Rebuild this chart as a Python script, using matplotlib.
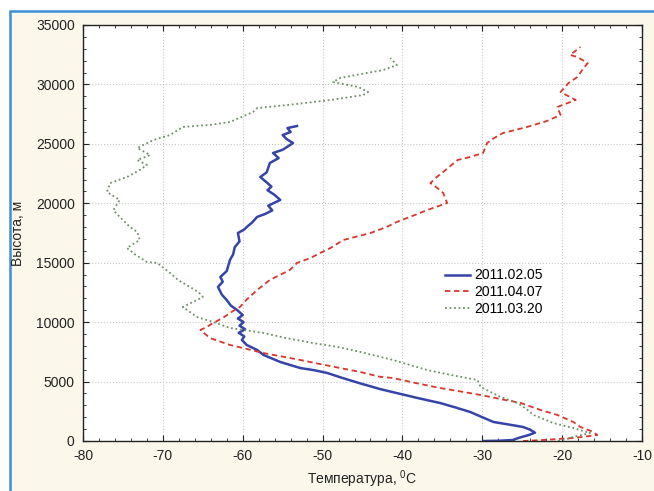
import matplotlib.pyplot as plt
from matplotlib.patches import Rectangle
from matplotlib.ticker import MultipleLocator

# 2011.02.05 (temperature, C / altitude, m)
t_0205 = [-29.8, -28.0, -26.2, -25.5, -24.2, -23.4, -24.0, -24.9, -26.8, -28.6, -30.0, -31.5,
          -33.5, -35.3, -38.0, -40.5, -42.8, -45.3, -47.5, -49.4, -51.0, -52.8, -55.3, -57.4,
          -58.2, -59.5, -60.1, -59.8, -60.5, -59.7, -60.4, -59.9, -60.6, -60.0, -60.7, -61.5,
          -62.0, -62.6, -63.1, -62.5, -62.8, -62.0, -61.6, -61.2, -61.0, -60.4, -60.6, -59.8,
          -59.5, -58.8, -58.2, -57.2, -56.3, -56.8, -55.3, -56.0, -56.9, -56.4, -56.9, -57.8,
          -57.0, -56.6, -55.5, -56.2, -55.0, -53.7, -54.5, -55.0, -54.0, -54.4, -53.2]
h_0205 = [0, 20, 80, 250, 500, 700, 950, 1180, 1400, 1600, 2000, 2440,
          2850, 3200, 3600, 4000, 4370, 4850, 5300, 5720, 5950, 6140, 6650, 7240,
          7660, 8080, 8500, 8800, 9100, 9400, 9700, 10000, 10300, 10600, 11020, 11400,
          11860, 12300, 12960, 13400, 13800, 14300, 15230, 15700, 16300, 16800, 17500, 17800,
          18000, 18400, 18850, 19100, 19400, 19800, 20280, 20700, 21100, 21400, 21700, 22210,
          22600, 23390, 23800, 24230, 24500, 25070, 25400, 25740, 26000, 26330, 26500]

# 2011.04.07
t_0407 = [-24.9, -22.0, -18.6, -15.6, -16.1, -17.7, -18.6, -20.6, -22.7, -25.2, -27.5, -30.2,
          -33.0, -35.3, -38.5, -41.2, -42.8, -45.3, -47.8, -50.5, -52.8, -55.0, -57.4, -59.5,
          -61.6, -64.1, -65.3, -64.5, -63.7, -62.5, -61.6, -60.3, -59.5, -58.2, -56.6, -54.1,
          -53.2, -51.5, -50.3, -49.0, -47.4, -44.0, -42.0, -40.7, -38.5, -36.9, -34.4, -34.9,
          -35.3, -36.5, -35.7, -34.6, -33.1, -31.5, -29.9, -29.4, -28.5, -27.4, -24.4, -22.0,
          -20.2, -20.6, -18.3, -20.2, -19.2, -18.1, -17.5, -16.8, -18.1, -19.0, -17.7]
h_0407 = [0, 100, 250, 500, 760, 1180, 1600, 2190, 2610, 3200, 3500, 3870,
          4200, 4460, 4900, 5300, 5400, 5810, 6140, 6500, 6820, 7100, 7400, 7750,
          8080, 8660, 9340, 9600, 9930, 10350, 10770, 11300, 11900, 12700, 13550, 14390,
          14980, 15400, 15820, 16240, 16910, 17500, 18000, 18430, 19000, 19430, 20020, 20870,
          21120, 21700, 22210, 22800, 23640, 23900, 24230, 25070, 25500, 25910, 26420, 26900,
          27430, 28100, 28690, 29360, 30120, 30620, 31200, 31800, 32310, 32480, 33150]

# 2011.03.20
t_0320 = [-20.5, -19.5, -18.6, -16.5, -18.6, -21.1, -22.5, -23.6, -24.5, -25.6, -27.7, -30.2,
          -30.6, -33.5, -36.9, -41.2, -45.3, -48.0, -51.2, -54.5, -57.4, -61.6, -63.7, -65.7,
          -67.5, -65.0, -65.5, -66.6, -68.0, -69.1, -70.7, -72.0, -73.5, -74.5, -72.9, -73.2,
          -74.1, -75.4, -76.2, -75.4, -77.0, -76.6, -74.5, -72.9, -72.0, -73.2, -71.6, -73.2,
          -71.2, -69.1, -67.5, -64.0, -61.6, -58.7, -58.2, -54.0, -49.0, -44.9, -44.3, -45.5,
          -48.7, -47.8, -45.0, -42.4, -40.7, -41.5]
h_0320 = [0, 150, 350, 670, 1090, 1510, 1900, 2190, 2700, 3200, 3700, 4540,
          5130, 5500, 5970, 6820, 7500, 7900, 8240, 8650, 9090, 9510, 10010, 10430,
          11270, 12110, 12500, 12960, 13500, 14130, 14980, 15060, 15700, 16240, 16910, 17580,
          18000, 18850, 19430, 20280, 20950, 21700, 22210, 22800, 23220, 23640, 24060, 24650,
          25320, 25740, 26420, 26600, 26840, 27680, 28010, 28300, 28690, 29110, 29360, 29780,
          30200, 30540, 30900, 31210, 31630, 32220]

plt.rcParams["font.family"] = ["Liberation Sans", "DejaVu Sans"]
plt.rcParams["font.size"] = 10
plt.rcParams["axes.unicode_minus"] = False
plt.rcParams["mathtext.fontset"] = "custom"
plt.rcParams["mathtext.rm"] = "Liberation Sans"

fig = plt.figure(figsize=(6.54, 4.91), dpi=100, facecolor="white")
# cream panel with blue frame (left and top edges visible)
fig.add_artist(Rectangle((10 / 654, -0.1), 1.2, 1.1 - 11 / 491, transform=fig.transFigure,
                         facecolor="#fcf7eb", edgecolor="#3d8fd6", linewidth=1.8, zorder=0))

ax = fig.add_axes([83 / 654, 1 - 441 / 491, 559 / 654, 416 / 491])
ax.set_facecolor("white")

ax.plot(t_0205, h_0205, color="#3444a8", linewidth=1.8, label="2011.02.05")
ax.plot(t_0407, h_0407, color="#d9362c", linewidth=1.3, linestyle=(0, (3, 2)), label="2011.04.07")
ax.plot(t_0320, h_0320, color="#6f9068", linewidth=1.3, linestyle=(0, (1, 1.5)), label="2011.03.20")

ax.set_xlim(-80, -10)
ax.set_ylim(0, 35000)
ax.xaxis.set_major_locator(MultipleLocator(10))
ax.xaxis.set_minor_locator(MultipleLocator(2))
ax.yaxis.set_major_locator(MultipleLocator(5000))
ax.yaxis.set_minor_locator(MultipleLocator(1000))
ax.tick_params(which="both", direction="in", top=True, right=True, colors="#222222")
ax.tick_params(which="major", length=4, labelsize=10, pad=6)
ax.tick_params(which="minor", length=2)
ax.grid(which="major", color="#c8c8c8", linestyle=":", linewidth=0.8)
for s in ax.spines.values():
    s.set_color("#222222")
    s.set_linewidth(1.0)

ax.set_xlabel("Температура, $^0$C", fontsize=10, color="#222222", labelpad=4)
ax.set_ylabel("Высота, м", fontsize=10, color="#222222", labelpad=8)

ax.legend(loc="upper left", bbox_to_anchor=(0.626, 0.445), frameon=False, fontsize=10,
          handlelength=1.75, labelspacing=0.2, handletextpad=0.3)

plt.savefig("out.png", dpi=100, facecolor=fig.get_facecolor())
